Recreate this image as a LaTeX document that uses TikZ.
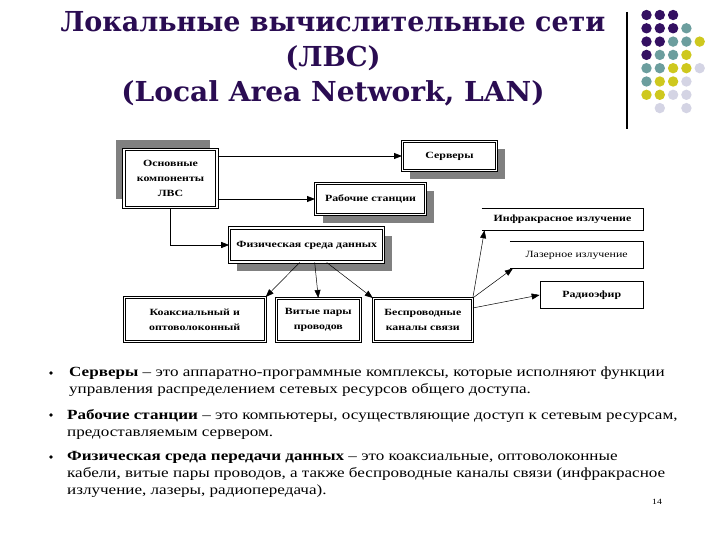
\documentclass[tikz,border=0pt]{standalone}
\usepackage{fontspec}
\setmainfont{Liberation Serif}
\newfontfamily\titlefont{DejaVu Serif}
\newfontfamily\boxfont{Liberation Serif}[FakeStretch=1.25]
\newfontfamily\bodyfont{Liberation Serif}[FakeStretch=1.22]
\usepackage{tikz}
\usetikzlibrary{arrows.meta,backgrounds}
\definecolor{ttlcol}{RGB}{42,12,82}
\definecolor{dpur}{RGB}{52,16,98}
\definecolor{dtea}{RGB}{108,158,158}
\definecolor{dyel}{RGB}{206,200,30}
\definecolor{dlav}{RGB}{212,212,228}
\definecolor{shgray}{RGB}{128,128,128}
\tikzset{
  bx/.style={draw, fill=white, align=center, inner sep=1pt, font=\boxfont\bfseries\fontsize{9.5}{15}\selectfont},
  dbl/.style={bx, double, double distance=1.4pt, line width=1pt},
  opn/.style={bx, draw=none, fill=none},
  fl/.style={-{Triangle[length=8pt,width=6pt]}, line width=0.8pt},
  fd/.style={-{Triangle[length=8pt,width=6pt]}, line width=0.5pt},
  itm/.style={anchor=north west, align=left, inner sep=0pt, font=\bodyfont\fontsize{14}{17}\selectfont},
}
\begin{document}
\begin{tikzpicture}[x=1pt,y=-1pt]
\useasboundingbox (0,0) rectangle (720,540);
% title and decoration
\node[font=\titlefont\bfseries\fontsize{27.5}{35}\selectfont, text=ttlcol, align=center] (ttl) at (333,59)
  {\scalebox{0.98}[1]{Локальные вычислительные сети}\\(ЛВС)\\\scalebox{1.02}[1]{(Local Area Network, LAN)}};
\draw[line width=1.2pt] (627,12) -- (627,129);
\foreach \c/\r/\k in {0/0/dpur,1/0/dpur,2/0/dpur,
  0/1/dpur,1/1/dpur,2/1/dpur,3/1/dtea,
  0/2/dpur,1/2/dpur,2/2/dtea,3/2/dtea,4/2/dyel,
  0/3/dpur,1/3/dtea,2/3/dtea,3/3/dyel,
  0/4/dtea,1/4/dtea,2/4/dyel,3/4/dyel,4/4/dlav,
  0/5/dtea,1/5/dyel,2/5/dyel,3/5/dlav,
  0/6/dyel,1/6/dyel,2/6/dlav,3/6/dlav,
  1/7/dlav,3/7/dlav}
  \fill[\k] ({646.5+13.3*\c},{15+13.3*\r}) circle (5.2);
% diagram
\node[dbl, minimum width=93, minimum height=58] (osn) at (170.5,178.7) {Основные\\компоненты\\ЛВС};
\node[dbl, minimum width=94, minimum height=29] (serv) at (449.5,156) {Серверы};
\node[dbl, minimum width=110, minimum height=31] (rab) at (370.5,199) {Рабочие станции};
\node[dbl, minimum width=154, minimum height=34] (fiz) at (306.7,245) {Физическая среда данных};
\node[dbl, minimum width=141, minimum height=44] (koax) at (194.7,319.5) {Коаксиальный и\\оптоволоконный};
\node[dbl, minimum width=84, minimum height=43] (vit) at (318.3,320) {Витые пары\\проводов};
\node[dbl, minimum width=99, minimum height=43] (besp) at (422.8,320) {Беспроводные\\каналы связи};
\node[opn, minimum width=161.6, minimum height=21.7] (infr) at (562.5,219.2) {Инфракрасное излучение};
\node[opn, font=\boxfont\fontsize{9.5}{15}\selectfont, minimum width=133.3, minimum height=26.6] (laz) at (576.7,255) {Лазерное излучение};
\node[bx, line width=0.8pt, minimum width=103.3, minimum height=26.6] (radio) at (591.7,295) {Радиоэфир};
\begin{scope}[on background layer]
  \fill[shgray] ([shift={(-8pt,9pt)}]osn.north west) rectangle ([shift={(-8pt,9pt)}]osn.south east);
  \foreach \n in {serv,rab,fiz}
    \fill[shgray] ([shift={(8pt,-8pt)}]\n.north west) rectangle ([shift={(8pt,-8pt)}]\n.south east);
\end{scope}
\draw[line width=0.8pt] (infr.north west) -- (infr.north east) -- (infr.south east) -- (infr.south west);
\draw[line width=0.8pt] (laz.north west) -- (laz.north east) -- (laz.south east) -- (laz.south west);
\draw[fl] (osn.east |- serv.west) -- (serv.west);
\draw[fl] (osn.east |- rab.west) -- (rab.west);
\draw[fl] (osn.south) |- (fiz.west);
\draw[fd] ([xshift=-7pt]fiz.south) -- (koax.north east);
\draw[fd] ([xshift=8pt]fiz.south) -- (vit.north);
\draw[fd] ([xshift=20pt]fiz.south) -- (besp.north west);
\draw[fd] (besp.north east) -- ([xshift=3pt]infr.south west);
\draw[fd] (besp.north east) -- ([xshift=3pt]laz.south west);
\draw[fd] ([yshift=-10pt]besp.north east) -- (radio.west);
% bullet list
\fill (51,373) circle (1.8);
\fill (51,415) circle (1.8);
\fill (51,457) circle (1.8);
\node[itm] (it1) at (69,367) {\textbf{Серверы} – это аппаратно-программные комплексы, которые исполняют функции\\управления распределением сетевых ресурсов общего доступа.};
\node[itm] (it2) at (67,409) {\textbf{Рабочие станции} – это компьютеры, осуществляющие доступ к сетевым ресурсам,\\предоставляемым сервером.};
\node[itm] (it3) at (67,451) {\textbf{Физическая среда передачи данных} – это коаксиальные, оптоволоконные\\кабели, витые пары проводов, а также беспроводные каналы связи (инфракрасное\\излучение, лазеры, радиопередача).};
\node[font=\bodyfont\fontsize{8}{8}\selectfont] (pg) at (657,502) {14};
\end{tikzpicture}
\end{document}
